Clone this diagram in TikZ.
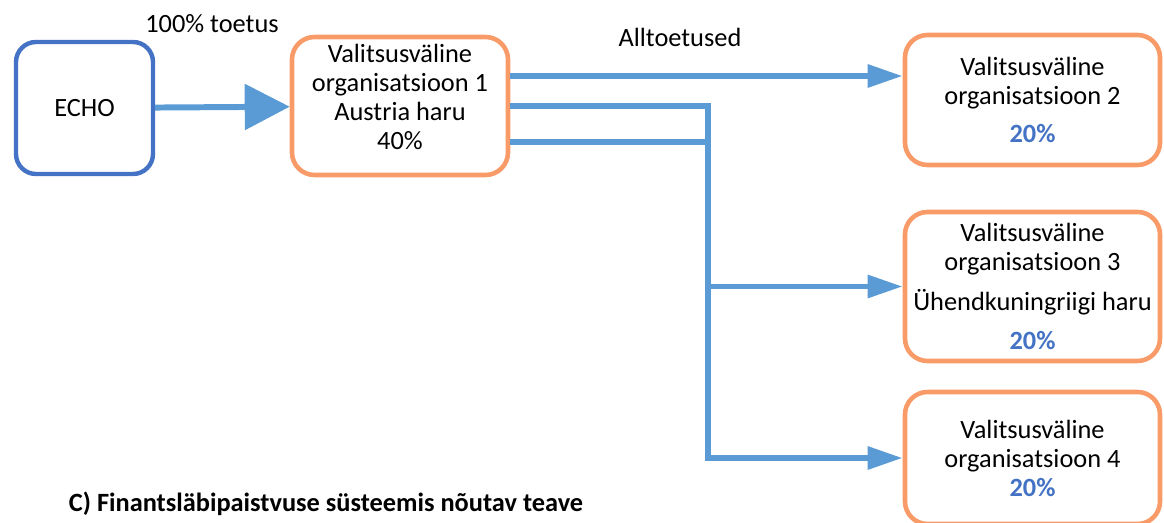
\documentclass[tikz,border=0pt]{standalone}
\usepackage{fontspec}
\setmainfont{Carlito}
\usepackage{xcolor}
\usepackage{tikz}
\usetikzlibrary{arrows.meta}
\usetikzlibrary{calc}

\definecolor{echoblue}{RGB}{68,114,196}
\definecolor{flowblue}{RGB}{91,155,213}
\definecolor{ngoorange}{RGB}{248,155,105}

\begin{document}
\begin{tikzpicture}[align=center,
	font=\fontsize{15}{16.5}\selectfont,
	donor/.style={rectangle, rounded corners=0.4cm, draw=echoblue, line width=2.5pt, minimum width=2.74cm, minimum height=2.64cm},
	ngo/.style={rectangle, rounded corners=0.45cm, draw=ngoorange, line width=2.6pt, inner sep=0pt, minimum width=5.1cm},
	feed/.style={draw=flowblue, line width=3.4pt},
	flow/.style={feed, -{Triangle[length=0.7cm, width=0.44cm]}},
]
\useasboundingbox (0,0) rectangle (23.28,-10.46);
%
\node [donor] (echo) at (1.69,-2.16) {ECHO};
\node [ngo, minimum width=4.32cm, minimum height=2.76cm] (org1) at (8.0,-2.12)
	{Valitsusväline\\organisatsioon 1\\Austria haru\\40\%\\[-6.3pt]\mbox{}};
\node [ngo, minimum height=2.6cm]  (org2) at (20.65,-2.0)
	{Valitsusväline\\organisatsioon 2\\[5pt]\textcolor{echoblue}{\bfseries 20\%}};
\node [ngo, minimum height=2.98cm] (org3) at (20.65,-5.73)
	{Valitsusväline\\organisatsioon 3\\[6pt]Ühendkuningriigi haru\\[6pt]\textcolor{echoblue}{\bfseries 20\%}};
\node [ngo, minimum height=2.64cm] (org4) at (20.65,-9.16)
	{Valitsusväline\\organisatsioon 4\\\textcolor{echoblue}{\bfseries 20\%}};
%
\node (grant)    at (4.24,-0.48) {100\% toetus};
\node (subgrant) at (13.6,-0.74) {Alltoetused};
\node [font=\fontsize{15}{17}\selectfont\bfseries] (caption) at (6.52,-10.07)
	{C) Finantsläbipaistvuse süsteemis nõutav teave};
%
\coordinate (top)    at ($(org1.east)+(0,0.6)$);
\coordinate (low)    at ($(org1.east)+(0,-0.72)$);
\coordinate (branch) at (14.16,-2.12);
%
\draw [feed, -{Triangle[length=0.9cm, width=0.9cm]}] (echo) -- (org1);
\draw [flow] (top) -- (top -| org2.west);
\draw [flow] (org1.east) -- (branch) |- (org4.west);
\draw [feed] (low) -- (low -| branch);
\draw [flow] (branch |- org3.west) -- (org3.west);
\end{tikzpicture}
\end{document}
